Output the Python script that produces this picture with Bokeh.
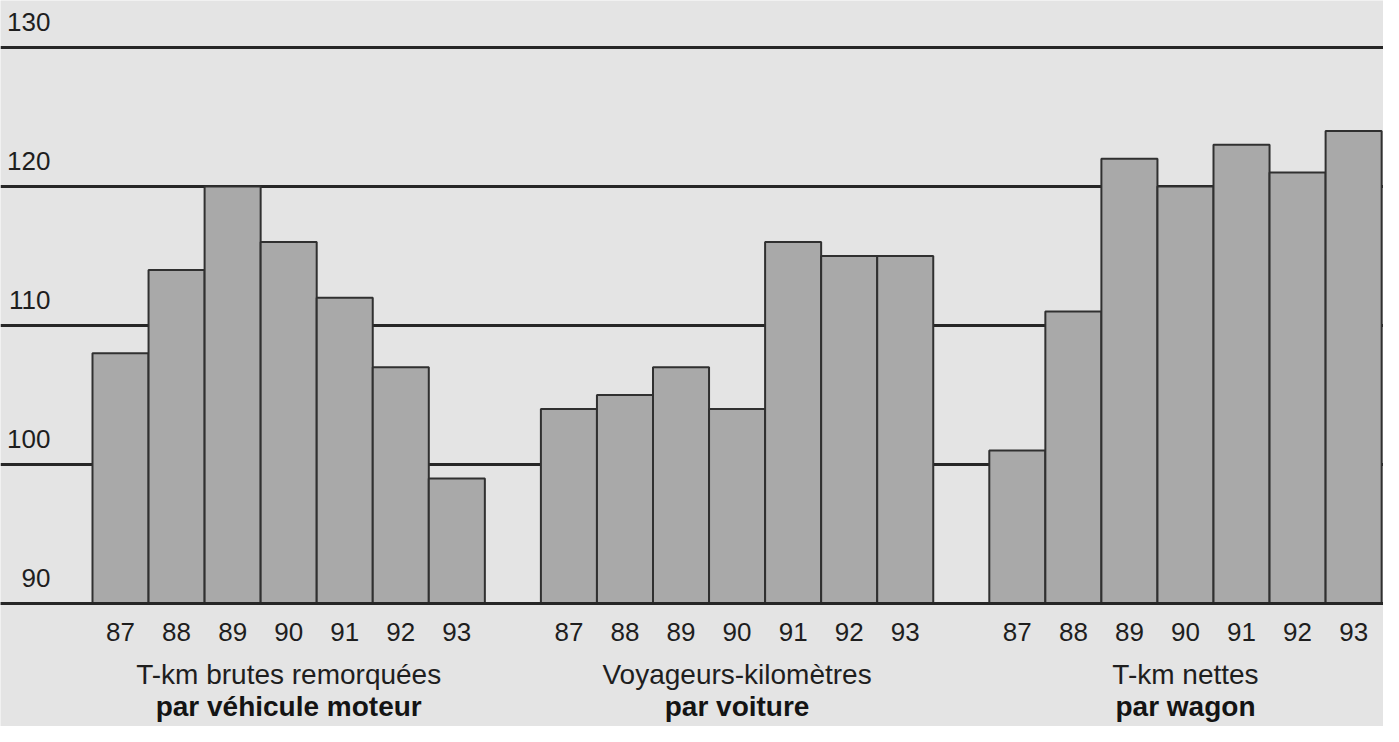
from bokeh.plotting import figure
from bokeh.models import Range1d, FixedTicker, ColumnDataSource
from bokeh.core.properties import value
from bokeh.embed import file_html
from bokeh.resources import INLINE

# ---------------- data ----------------
years = ["87", "88", "89", "90", "91", "92", "93"]
tkm_brutes = [108, 114, 120, 116, 112, 107, 99]
voyageurs_km = [104, 105, 107, 104, 116, 115, 115]
tkm_nettes = [101, 111, 122, 120, 123, 121, 124]
group_titles = ["T-km brutes remorquées", "Voyageurs-kilomètres", "T-km nettes"]
group_subtitles = ["par véhicule moteur", "par voiture", "par wagon"]
y_ticks = [90, 100, 110, 120, 130]
baseline = 90

series = [tkm_brutes, voyageurs_km, tkm_nettes]

# ---------------- layout ----------------
W, H = 1383, 726
slot_px = 56.05
x_start = -92 / slot_px
x_end = x_start + W / slot_px
px_per_unit = 13.9
y_top = 130 + 47 / px_per_unit
y_bottom = y_top - H / px_per_unit

FONT = value("Liberation Sans")
BG = "#e4e4e4"
INK = "#1e1e1e"

p = figure(width=W, height=H, output_backend="svg", toolbar_location=None,
           x_range=Range1d(x_start, x_end), y_range=Range1d(y_bottom, y_top),
           min_border=0, min_border_left=0, min_border_right=0,
           min_border_top=0, min_border_bottom=0,
           background_fill_color=BG, border_fill_color=BG, outline_line_color=None)
p.xaxis.visible = False
p.yaxis.visible = False
p.xgrid.visible = False
p.ygrid.ticker = FixedTicker(ticks=y_ticks)
p.ygrid.grid_line_color = "#262626"
p.ygrid.grid_line_width = 3

bx, btop, ylab = [], [], []
for g, vals in enumerate(series):
    for i, v in enumerate(vals):
        bx.append(g * 8 + i + 0.5)
        btop.append(v)
        ylab.append(years[i])

src = ColumnDataSource(dict(x=bx, top=btop, year=ylab, base=[baseline] * len(bx)))
p.vbar(x="x", top="top", bottom="base", width=1.0, source=src,
       fill_color="#a9a9a9", line_color="#303030", line_width=2)

# baseline redraw on top
p.segment(x0=[x_start], x1=[x_end], y0=[baseline], y1=[baseline],
          line_color="#262626", line_width=3)

# year labels
p.text(x="x", y="base", text="year", source=src, text_font=FONT,
       text_font_size="26px", text_color=INK, text_align="center",
       text_baseline="alphabetic", y_offset=28)

# group titles
gx = [g * 8 + 3.5 for g in range(3)]
p.text(x=gx, y=[baseline] * 3, text=group_titles, text_font=FONT,
       text_font_size="28px", text_color=INK, text_align="center",
       text_baseline="alphabetic", y_offset=71)
p.text(x=gx, y=[baseline] * 3, text=group_subtitles, text_font=FONT,
       text_font_size="28px", text_font_style="bold", text_color="#141414",
       text_align="center", text_baseline="alphabetic", y_offset=103)

# y tick labels (above their lines, right-aligned near left edge)
p.text(x=[x_start] * len(y_ticks), y=y_ticks, text=[str(t) for t in y_ticks],
       text_font=FONT, text_font_size="26px", text_color=INK,
       text_align="right", text_baseline="alphabetic", x_offset=50, y_offset=-26)

open("out.html", "w").write(file_html(p, INLINE))
